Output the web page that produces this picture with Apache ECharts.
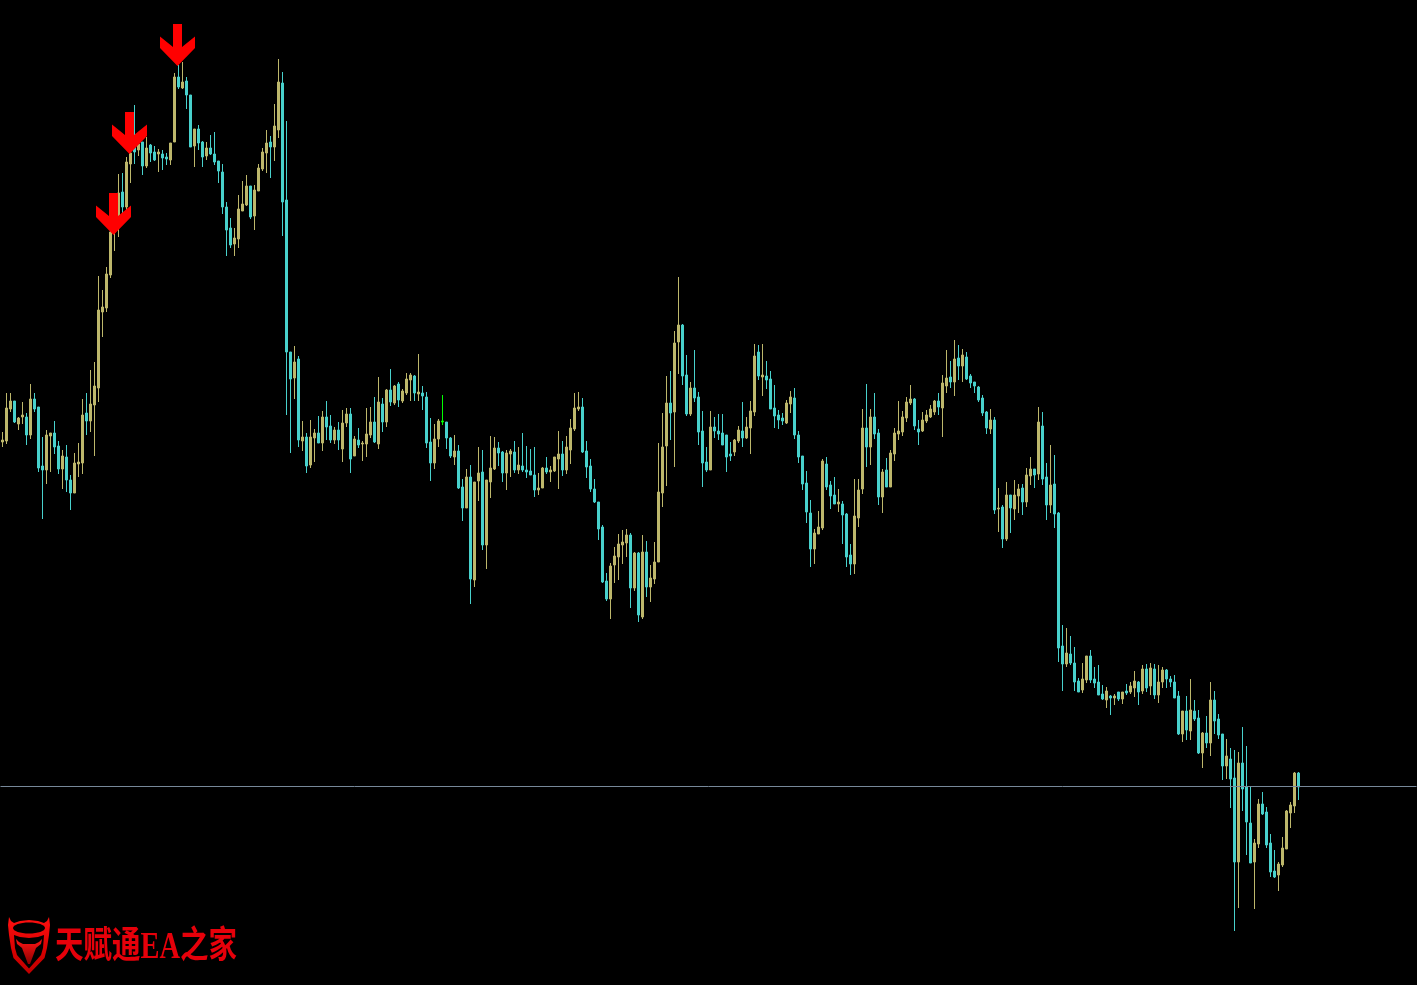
<!DOCTYPE html>
<html>
<head>
<meta charset="utf-8">
<title>天赋通EA之家</title>
<style>html,body{margin:0;padding:0;background:#000;overflow:hidden}#chart{width:1417px;height:985px}</style>
<script src="https://cdn.jsdelivr.net/npm/echarts@6/dist/echarts.min.js"></script>
</head>
<body>
<div id="chart"></div>
<script>
// Candle direction: K = rising (khaki), C = falling (turquoise), G = doji (green)
const directions = (
  "KKKCKKCKCCCKKCCKCCKKKCKKK"+"KKKKKCKKCKCKCCKCCKKCKCCKC"+"CKCCCCCCKKKKCKKKKCKKCCCKC"+
  "KCKKCKCCKCKKCKCKKKCKCKCKC"+"KKKCKCCCKKGCCKCCKCKKCKKKC"+"CKKCKCCCCKKCKKKCKKKKCCCCC"+
  "CCKKKKKCKCKCKKKKKCKKCCKCC"+"CCKCCCCCKKCKKKCKCCCCCKKCC"+"CCCKKKCCCKCCCKKKCKCCKCKKK"+
  "KKKCCKKKKCKKCKCKCCCCCCKCK"+"CKCKKCKKCKCCKCCCKCCCKKCCC"+"CKCKCKCKKCKCKCKKCCCCKCKCC"+
  "KCKCCCKCCKCCCKKCCCCKKKKKC").split("");
const bodyUpper = [
560,592,599,599,582,585,583,601,601,593,534,565,567,567,554,544,543,520,537,538,585,587,596,614,690,
693,726,768,782,807,808,838,847,854,856,858,852,855,848,848,846,843,857,923,923,918,919,905,871,871,
858,852,852,846,839,828,793,772,762,791,796,814,814,810,832,848,857,858,874,918,917,800,648,638,641,
563,563,563,567,567,583,583,574,570,570,577,586,586,561,560,557,566,578,578,598,596,610,610,614,616,
609,621,625,624,608,607,603,558,561,579,579,578,562,549,549,513,523,523,518,527,528,520,532,552,552,
548,547,549,548,535,534,530,529,525,512,532,532,530,543,546,546,553,572,592,593,593,549,534,511,498,
473,419,434,444,456,458,465,465,447,447,448,448,422,438,508,553,597,597,657,675,675,625,612,612,603,
569,538,573,573,569,567,565,546,560,570,569,573,589,644,648,625,624,621,592,585,582,597,603,602,565,
544,517,487,467,473,539,536,515,505,498,496,486,445,484,510,572,572,583,583,567,528,530,547,567,569,
583,598,601,601,571,580,585,591,599,599,617,622,623,641,642,645,643,624,618,613,602,588,580,580,492,
493,505,505,505,511,512,525,531,531,578,574,523,515,516,487,354,347,346,337,319,321,344,344,321,318,
306,309,304,304,308,308,309,314,319,318,331,331,332,331,318,330,330,321,318,304,289,289,290,289,282,
267,267,300,300,281,266,244,241,222,237,237,213,177,157,196,196,188,157,129,136,152,189,195,227,227];
const bodyLower = [
558,559,591,578,576,583,565,565,591,532,530,530,564,553,531,531,520,507,507,536,537,579,579,595,612,
688,692,725,768,782,793,793,836,848,850,834,834,847,840,846,842,841,840,858,913,912,905,853,854,857,
843,844,846,838,829,793,770,755,756,761,789,795,783,784,809,831,847,853,853,870,798,648,621,622,560,
559,534,535,562,557,557,573,560,560,560,551,577,541,544,555,556,556,565,558,556,578,578,598,597,600,
599,607,620,607,606,604,557,537,537,561,578,562,544,543,512,492,492,421,420,519,455,455,518,531,547,
527,527,546,530,530,530,528,525,510,510,512,528,528,529,541,530,530,550,571,591,548,533,511,498,471,
418,401,401,435,443,455,457,412,412,385,383,413,413,421,438,507,554,587,588,658,624,586,586,602,568,
537,530,530,569,566,555,543,544,548,559,562,562,572,588,624,623,620,591,584,580,579,577,596,565,543,
516,488,451,451,466,472,513,504,496,496,485,443,436,436,482,511,553,553,566,503,503,513,513,546,566,
568,582,597,574,568,569,579,583,588,593,592,614,618,618,634,634,621,617,614,600,587,572,571,490,491,
461,461,492,491,504,498,498,524,525,526,521,495,495,486,352,336,336,337,318,308,310,320,320,317,305,
301,300,302,302,301,301,307,308,312,308,309,312,314,305,305,318,321,318,302,266,266,270,269,281,247,
247,257,257,279,265,234,234,221,138,138,211,178,137,138,156,186,155,128,123,125,135,151,187,194,213];
const highs = [
568,607,607,599,583,598,587,616,607,593,563,570,567,579,559,550,555,525,547,557,601,607,630,638,724,
710,733,774,786,826,827,843,855,895,860,858,863,856,854,851,850,847,857,927,935,938,923,905,871,875,
859,858,865,868,839,836,798,782,772,805,819,825,814,815,836,852,870,864,896,941,928,879,648,654,644,
579,567,580,571,584,589,599,585,573,578,590,592,592,564,572,559,592,593,603,623,602,611,631,615,618,
611,627,627,625,646,614,608,582,576,581,605,578,563,565,555,521,531,535,518,553,550,520,564,563,558,
549,550,551,559,553,567,554,551,553,527,533,543,534,543,569,559,564,581,607,608,602,559,541,521,498,
475,427,437,453,466,470,471,467,448,448,465,459,435,458,557,587,624,629,669,723,676,645,618,650,608,
589,553,589,583,586,586,565,558,561,574,598,583,599,656,655,656,639,629,615,590,587,600,609,612,569,
544,529,500,471,489,541,543,519,523,511,499,487,456,521,521,591,616,591,607,571,531,542,550,572,599,
589,603,615,602,580,588,590,595,600,607,625,650,639,660,655,651,648,626,618,614,605,589,591,583,512,
495,518,505,520,516,516,532,543,531,593,588,537,555,545,488,375,372,364,353,322,337,344,350,333,335,
315,313,305,306,308,308,316,318,329,319,335,336,337,336,335,333,331,324,325,309,289,304,321,300,290,
268,284,318,309,286,266,261,252,250,248,273,254,214,161,201,208,193,166,150,138,163,190,198,228,228];
const lows = [
553,556,588,577,570,576,555,561,588,528,481,516,528,546,526,511,508,490,507,523,526,565,568,544,598,
663,688,722,749,763,783,788,817,836,844,825,832,838,839,828,830,835,835,858,911,911,891,853,833,850,
833,840,845,835,817,786,744,752,744,752,789,794,781,770,809,829,827,822,839,862,764,585,547,601,553,
549,527,532,538,557,549,560,557,556,550,538,573,527,544,552,539,543,562,557,551,568,573,594,595,593,
597,605,599,599,599,590,552,519,531,553,575,551,542,535,511,479,492,396,413,499,450,431,502,530,534,
518,510,523,527,526,528,522,525,503,505,512,526,518,528,511,524,526,536,569,589,547,522,508,497,460,
417,399,381,417,420,436,443,392,409,378,381,403,398,416,438,493,514,560,533,626,615,584,584,598,555,
513,528,530,562,560,555,528,539,544,557,553,561,546,584,620,604,611,591,572,571,575,576,587,561,537,
510,477,433,436,466,470,510,491,496,488,456,433,425,426,473,506,533,535,561,495,487,513,513,539,560,
564,578,595,570,555,568,577,582,585,585,563,607,612,604,620,618,620,612,607,598,584,566,566,486,468,
452,459,467,480,487,485,493,515,512,520,515,480,487,472,338,309,333,335,309,308,307,317,317,312,305,
300,292,285,295,299,296,305,306,303,295,306,308,305,301,297,312,312,313,302,265,258,260,260,279,246,
232,252,244,266,261,220,221,192,69,92,189,145,137,91,152,185,152,123,122,109,133,151,172,187,200];
const arrowBars = [28, 32, 44];
const arrowTips = [765, 846, 934];
const referenceLevel = 213.5;
const barSlots = 354;
const priceMin = 15, priceMax = 1000;
const watermark = "天赋通EA之家";

const KHAKI = "#BDB76B", TURQ = "#48D1CC", LIME = "#00FF00";
const categories = Array.from({length: barSlots}, (_, i) => String(i));
const candleData = directions.map((d, i) => {
  const up = d !== "C";
  const item = { value: up ? [bodyLower[i], bodyUpper[i], lows[i], highs[i]]
                           : [bodyUpper[i], bodyLower[i], lows[i], highs[i]] };
  if (d === "G") item.itemStyle = { color: LIME, color0: LIME, borderColor: LIME, borderColor0: LIME };
  return item;
});
const arrowPath = "path://M13 0L22 0L22 23L35 12.5L35 24L17.5 42L0 24L0 12.5L13 23Z";

const chart = echarts.init(document.getElementById("chart"), null, {renderer: "canvas"});
chart.setOption({
  animation: false,
  backgroundColor: "#000",
  grid: {left: 0.5, right: 0.5, top: 0, bottom: 0},
  xAxis: {type: "category", data: categories, boundaryGap: true, show: false},
  yAxis: {type: "value", min: priceMin, max: priceMax, show: false, scale: true},
  series: [
    {type: "line", data: [], z: 1, silent: true,
     markLine: {silent: true, animation: false, symbol: "none", label: {show: false},
       lineStyle: {color: "#778899", width: 1, type: "solid"},
       data: [{yAxis: referenceLevel}]}},
    {type: "candlestick", data: candleData, z: 2, barWidth: 2, silent: true,
     itemStyle: {color: KHAKI, color0: TURQ, borderColor: KHAKI, borderColor0: TURQ, borderWidth: 1}},
    {type: "scatter", z: 5, silent: true, symbol: arrowPath, symbolSize: [35, 42],
     symbolOffset: [-1, "-50%"], itemStyle: {color: "#FF0000", opacity: 1},
     data: arrowBars.map((b, i) => [b, arrowTips[i]])}
  ],
  graphic: [
    {type: "group", silent: true, z: 10, children: [
      {type: "polygon", shape: {points: [[9,917],[8,925],[9,935],[11,948],[13.5,958],[29,974],[44.5,958],[47,948],[49,935],[50,925],[49,917],[47,921],[44,923],[38,921],[29,920],[20,921],[14,923],[11,921]]},
       style: {fill: {type: "linear", x: 0, y: 0, x2: 0, y2: 1, colorStops: [{offset: 0, color: "#FF1010"}, {offset: 0.6, color: "#D80000"}, {offset: 1, color: "#C00000"}]}}},
      {type: "ellipse", shape: {cx: 29, cy: 928, rx: 16, ry: 5.5}, style: {fill: "#000"}},
      {type: "polygon", shape: {points: [[14,935],[20,937],[29,938],[38,937],[44,935],[43,948],[41,955],[29,968.5],[17,955],[15,948]]},
       style: {fill: "#000"}},
      {type: "polygon", shape: {points: [[16,939],[19,942],[23,944],[35,944],[39,942],[42,939],[41,944],[36,948],[30,964],[28,964],[22,948],[17,944]]},
       style: {fill: {type: "linear", x: 0, y: 0, x2: 0, y2: 1, colorStops: [{offset: 0, color: "#FF1414"}, {offset: 1, color: "#8A0000"}]}}},
      {type: "text", x: 55, y: 948, scaleY: 1.3,
       style: {text: watermark, fill: "#E6000A", font: 'bold 28.5px "Liberation Serif","Noto Sans CJK SC"',
               textAlign: "left", textVerticalAlign: "middle"}}
    ]}
  ]
});
</script>
</body>
</html>
